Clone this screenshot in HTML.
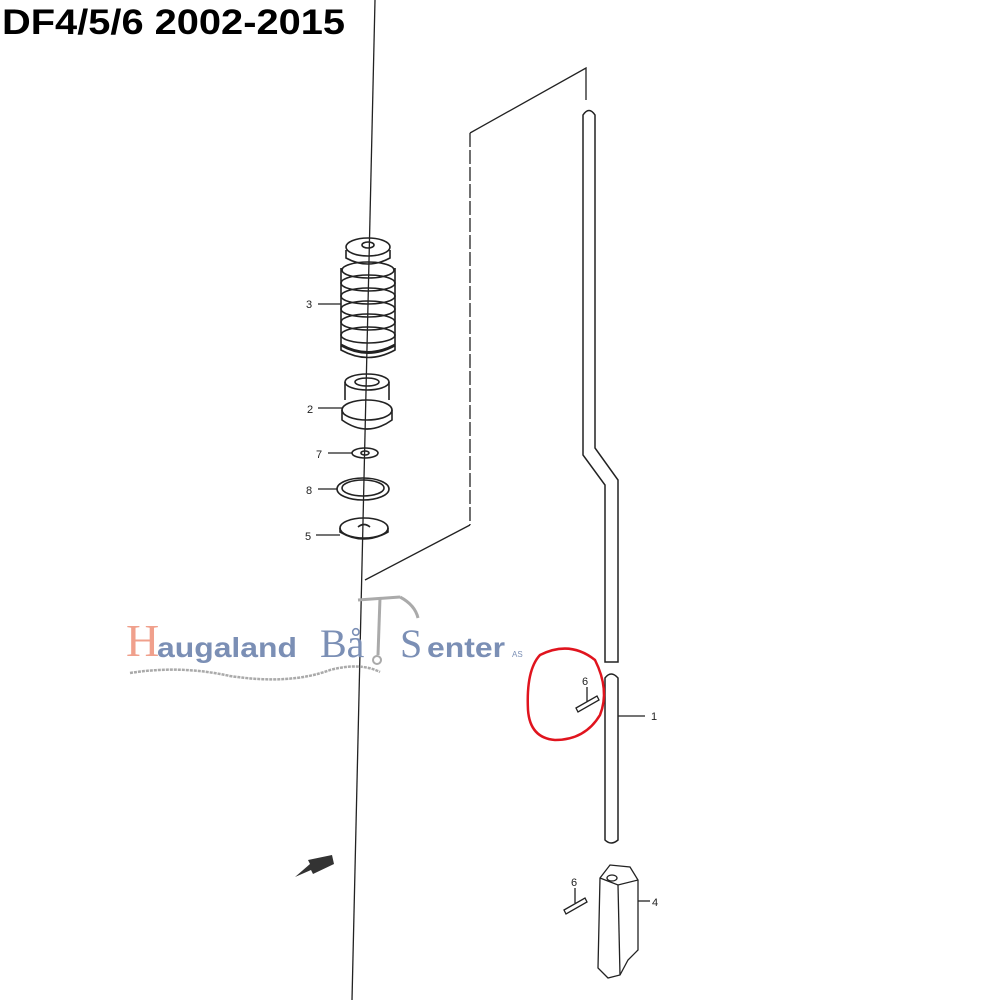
<!DOCTYPE html>
<html><head><style>
body{margin:0;background:#fff;width:1000px;height:1000px;overflow:hidden;}
svg{position:absolute;left:0;top:0}
</style></head><body>
<svg width="1000" height="1000" viewBox="0 0 1000 1000" xmlns="http://www.w3.org/2000/svg">
<text x="2" y="34" font-family="Liberation Sans, sans-serif" font-weight="bold" font-size="35" fill="#000" textLength="343" lengthAdjust="spacingAndGlyphs">DF4/5/6 2002-2015</text>
<g fill="none" stroke="#222" stroke-width="1.3">
<line x1="375" y1="0" x2="352" y2="1000"/>
<polyline points="586,100 586,68 470,133"/>
<line x1="470" y1="133" x2="470" y2="525" stroke-dasharray="14,3"/>
<line x1="470" y1="525" x2="365" y2="580"/>
<path d="M583,115 Q589,106 595,115 L595,448 L618,480 L618,662 L605,662 L605,485 L583,455 Z" stroke-width="1.5"/>
<path d="M605,678 Q611,670 618,678 L618,840 Q611,846 605,840 Z" stroke-width="1.5"/>
<line x1="618" y1="716" x2="645" y2="716"/>
<g stroke-width="1.6">
<ellipse cx="368" cy="247" rx="22" ry="9"/>
<ellipse cx="368" cy="245" rx="6" ry="3"/>
<path d="M346,250 L346,258 Q368,270 390,258 L390,250"/>
<ellipse cx="368" cy="270" rx="26" ry="8"/>
<ellipse cx="368" cy="283" rx="27" ry="8"/>
<ellipse cx="368" cy="296" rx="27" ry="8"/>
<ellipse cx="368" cy="309" rx="27" ry="8"/>
<ellipse cx="368" cy="322" rx="27" ry="8"/>
<ellipse cx="368" cy="335" rx="27" ry="8"/>
<path d="M341,268 L341,350 Q368,365 395,350 L395,268"/>
<path d="M341,345 Q368,360 395,345" stroke-width="3"/>
<ellipse cx="367" cy="382" rx="22" ry="8"/>
<ellipse cx="367" cy="382" rx="12" ry="4"/>
<path d="M345,382 L345,400 M389,382 L389,400"/>
<ellipse cx="367" cy="410" rx="25" ry="10"/>
<path d="M342,410 L342,420 Q367,438 392,420 L392,410"/>
<ellipse cx="365" cy="453" rx="13" ry="5"/>
<ellipse cx="365" cy="453" rx="4" ry="2"/>
<ellipse cx="363" cy="489" rx="26" ry="11"/>
<ellipse cx="363" cy="488" rx="21" ry="8"/>
<ellipse cx="364" cy="528" rx="24" ry="10"/>
<path d="M340,528 L340,532 Q364,546 388,532 L388,528"/>
<path d="M358,527 Q364,522 370,527"/>
</g>
<line x1="318" y1="304" x2="341" y2="304"/>
<line x1="318" y1="408" x2="342" y2="408"/>
<line x1="328" y1="453" x2="352" y2="453"/>
<line x1="318" y1="489" x2="337" y2="489"/>
<line x1="316" y1="535" x2="340" y2="535"/>
<path d="M576,708 L597,696 L599,700 L578,712 Z"/>
<line x1="587" y1="687" x2="587" y2="702"/>
<path d="M564,910 L585,898 L587,902 L566,914 Z"/>
<line x1="575" y1="888" x2="575" y2="903"/>
<path d="M600,878 L610,865 L630,867 L638,880 L638,950 L628,960 L620,975 L608,978 L598,968 Z" fill="#fff"/>
<path d="M600,878 L618,885 L638,880"/>
<line x1="618" y1="885" x2="620" y2="975"/>
<ellipse cx="612" cy="878" rx="5" ry="3"/>
<line x1="638" y1="901" x2="650" y2="901"/>
</g>
<g font-family="Liberation Sans, sans-serif" font-size="11" fill="#222">
<text x="306" y="308">3</text><text x="307" y="413">2</text>
<text x="316" y="458">7</text><text x="306" y="494">8</text>
<text x="305" y="540">5</text><text x="651" y="720">1</text>
<text x="582" y="685">6</text><text x="571" y="886">6</text>
<text x="652" y="906">4</text>
</g>
<path d="M295,877 L310,864 L308,860 L332,855 L334,864 L313,874 L311,870 Z" fill="#333"/>
<path d="M540,655 Q570,640 595,660 Q610,690 600,715 Q585,740 555,740 Q530,738 528,710 Q526,670 540,655 Z" fill="none" stroke="#e0141e" stroke-width="2.5"/>
<g font-family="Liberation Serif, serif">
<text x="126" y="656" font-size="46" fill="#f0a08c">H</text>
<text x="157" y="657" font-size="28" fill="#7b8fb5" font-family="Liberation Sans, sans-serif" font-weight="bold" textLength="140" lengthAdjust="spacingAndGlyphs">augaland</text>
<text x="320" y="657" font-size="40" fill="#7b8fb5">Bå</text>
<text x="400" y="657" font-size="40" fill="#7b8fb5">S</text>
<text x="427" y="657" font-size="28" fill="#7b8fb5" font-family="Liberation Sans, sans-serif" font-weight="bold" textLength="78" lengthAdjust="spacingAndGlyphs">enter</text>
<text x="512" y="657" font-size="8" fill="#7b8fb5" font-family="Liberation Sans, sans-serif">AS</text>
</g>
<g fill="none" stroke="#aaa" stroke-width="3">
<path d="M358,600 L400,597"/><path d="M380,598 L378,655"/>
<path d="M400,597 Q415,605 418,618"/>
<circle cx="377" cy="660" r="4" stroke-width="2"/>
</g>
<path d="M130,673 Q180,665 230,676 Q290,685 330,670 Q360,662 380,672" fill="none" stroke="#aaa" stroke-width="2.5" stroke-dasharray="3,1"/>
</svg>
</body></html>
